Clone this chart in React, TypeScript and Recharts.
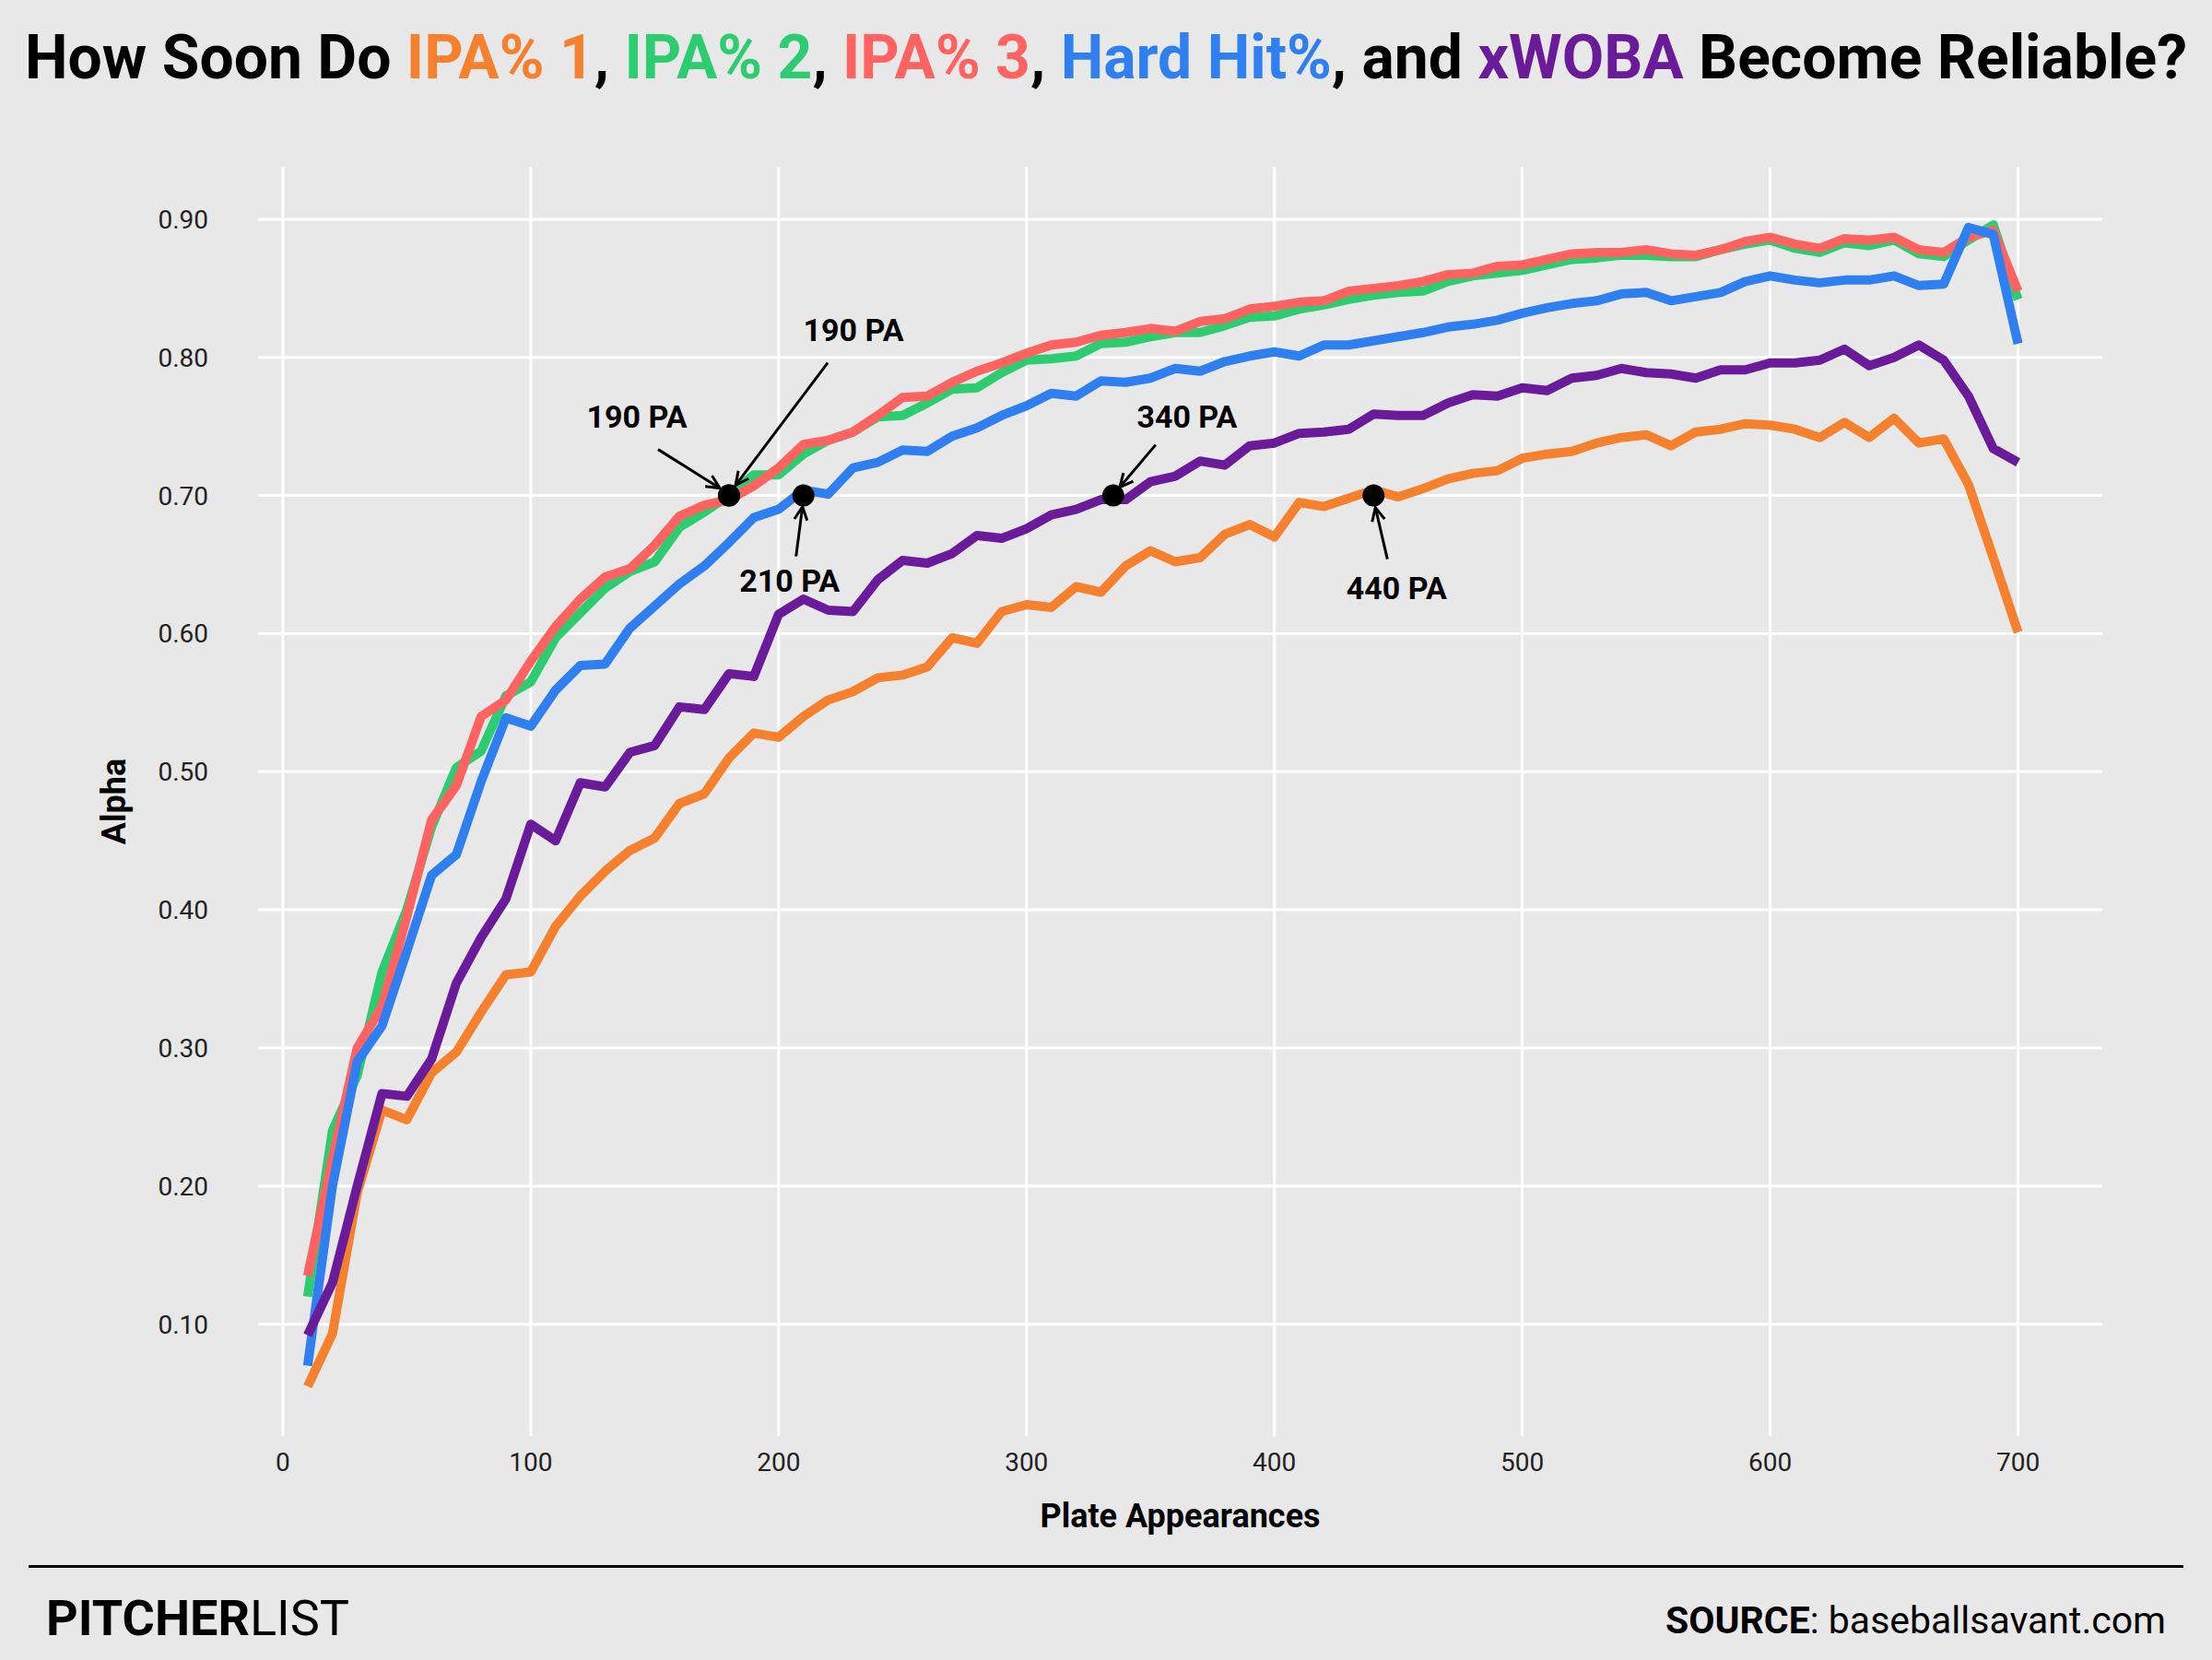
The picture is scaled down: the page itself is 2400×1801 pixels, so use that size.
import React from "react";
import { LineChart, Line, XAxis, YAxis, CartesianGrid, ReferenceDot } from "recharts";

const pa = [10,20,30,40,50,60,70,80,90,100,110,120,130,140,150,160,170,180,190,200,210,220,230,240,250,260,270,280,290,300,310,320,330,340,350,360,370,380,390,400,410,420,430,440,450,460,470,480,490,500,510,520,530,540,550,560,570,580,590,600,610,620,630,640,650,660,670,680,690,700];
const ipa1 = [0.055,0.093,0.195,0.255,0.248,0.282,0.297,0.326,0.353,0.355,0.388,0.41,0.428,0.443,0.452,0.477,0.484,0.51,0.528,0.525,0.54,0.552,0.558,0.568,0.57,0.576,0.597,0.593,0.616,0.621,0.619,0.634,0.63,0.649,0.66,0.652,0.655,0.672,0.679,0.67,0.695,0.692,0.698,0.704,0.699,0.705,0.712,0.716,0.718,0.727,0.73,0.732,0.738,0.742,0.744,0.736,0.746,0.748,0.752,0.751,0.748,0.742,0.753,0.742,0.756,0.738,0.741,0.708,0.655,0.601];
const ipa2 = [0.12,0.24,0.28,0.355,0.4,0.46,0.503,0.515,0.555,0.565,0.597,0.615,0.633,0.645,0.652,0.677,0.688,0.7,0.715,0.715,0.73,0.74,0.746,0.757,0.758,0.767,0.777,0.778,0.789,0.798,0.799,0.801,0.81,0.811,0.815,0.818,0.818,0.823,0.829,0.83,0.835,0.838,0.842,0.845,0.847,0.848,0.855,0.859,0.861,0.863,0.867,0.871,0.872,0.874,0.874,0.873,0.873,0.878,0.882,0.885,0.879,0.876,0.883,0.881,0.885,0.875,0.873,0.885,0.896,0.842];
const ipa3 = [0.135,0.22,0.3,0.33,0.395,0.465,0.49,0.54,0.552,0.58,0.605,0.625,0.641,0.647,0.664,0.685,0.693,0.697,0.707,0.72,0.737,0.74,0.746,0.758,0.771,0.772,0.782,0.79,0.796,0.803,0.809,0.811,0.816,0.818,0.821,0.819,0.826,0.828,0.835,0.837,0.84,0.841,0.848,0.85,0.852,0.855,0.86,0.861,0.866,0.867,0.871,0.875,0.876,0.876,0.878,0.875,0.874,0.878,0.884,0.887,0.882,0.879,0.886,0.885,0.887,0.878,0.876,0.887,0.892,0.848];
const hardHit = [0.07,0.2,0.29,0.316,0.37,0.425,0.44,0.493,0.539,0.533,0.559,0.577,0.578,0.604,0.62,0.636,0.649,0.666,0.684,0.69,0.704,0.701,0.72,0.724,0.733,0.732,0.743,0.749,0.758,0.765,0.774,0.772,0.783,0.782,0.785,0.792,0.79,0.797,0.801,0.804,0.801,0.809,0.809,0.812,0.815,0.818,0.822,0.824,0.827,0.832,0.836,0.839,0.841,0.846,0.847,0.841,0.844,0.847,0.855,0.859,0.856,0.854,0.856,0.856,0.859,0.852,0.853,0.894,0.889,0.81];
const xwoba = [0.092,0.13,0.2,0.267,0.265,0.292,0.347,0.38,0.408,0.462,0.45,0.492,0.489,0.514,0.519,0.547,0.545,0.571,0.569,0.614,0.625,0.617,0.616,0.639,0.653,0.651,0.658,0.671,0.669,0.676,0.686,0.69,0.697,0.697,0.71,0.714,0.725,0.722,0.736,0.738,0.745,0.746,0.748,0.759,0.758,0.758,0.767,0.773,0.772,0.778,0.776,0.785,0.787,0.792,0.789,0.788,0.785,0.791,0.791,0.796,0.796,0.798,0.806,0.794,0.8,0.809,0.798,0.772,0.734,0.724];

const xTicks = [0,100,200,300,400,500,600,700];
const yTicks = [0.1,0.2,0.3,0.4,0.5,0.6,0.7,0.8,0.9];

const dotX = [180, 180, 210, 335, 440];
const dotY = [0.7, 0.7, 0.7, 0.7, 0.7];
const dotLabels = ["190 PA", "190 PA", "210 PA", "340 PA", "440 PA"];
// offsets (px) for label/arrow relative to dot
const annot = [
  { tx: -100, ty: -86, ax: -77, ay: -50, bx: -10, by: -8 },
  { tx: 135, ty: -180, ax: 107, ay: -144, bx: 7, by: -11 },
  { tx: -15, ty: 92, ax: -8, ay: 66, bx: -1, by: 12 },
  { tx: 80, ty: -86, ax: 46, ay: -55, bx: 7, by: -9 },
  { tx: 25, ty: 100, ax: 15, ay: 69, bx: 2, by: 13 },
];

const data = pa.map((p, i) => ({ pa: p, ipa1: ipa1[i], ipa2: ipa2[i], ipa3: ipa3[i], hardHit: hardHit[i], xwoba: xwoba[i] }));

const series = [
  { key: "ipa1", color: "#f5802e" },
  { key: "ipa2", color: "#2ecc71" },
  { key: "ipa3", color: "#ff6361" },
  { key: "hardHit", color: "#2f7ff0" },
  { key: "xwoba", color: "#6a1b9a" },
];

const font = "Roboto, 'Noto Sans', sans-serif";

function Annot(idx: number) {
  return (props: any) => {
    const { cx, cy } = props;
    const a = annot[idx];
    const x1 = cx + a.ax, y1 = cy + a.ay, x2 = cx + a.bx, y2 = cy + a.by;
    const ang = Math.atan2(y2 - y1, x2 - x1);
    const L = 16, w = 0.45;
    const h1x = x2 - L * Math.cos(ang - w), h1y = y2 - L * Math.sin(ang - w);
    const h2x = x2 - L * Math.cos(ang + w), h2y = y2 - L * Math.sin(ang + w);
    return (
      <g>
        <circle cx={cx} cy={cy} r={12} fill="#000" />
        <line x1={x1} y1={y1} x2={x2} y2={y2} stroke="#000" strokeWidth={3} />
        <polyline points={`${h1x},${h1y} ${x2},${y2} ${h2x},${h2y}`} fill="none" stroke="#000" strokeWidth={3} />
        <text x={cx + a.tx} y={cy + a.ty} textAnchor="middle" dominantBaseline="central" fontFamily={font} fontWeight={700} fontSize={34} fill="#000">{dotLabels[idx]}</text>
      </g>
    );
  };
}

export default function App() {
  return (
    <div style={{ position: "absolute", left: 0, top: 0, width: 2400, height: 1801, background: "#e8e8e8", fontFamily: font }}>
      <div style={{ position: "absolute", top: 24, left: 0, width: 2400, textAlign: "center", fontSize: 66, fontWeight: 700, color: "#000", whiteSpace: "nowrap" }}>
        How Soon Do <span style={{ color: "#f5802e" }}>IPA% 1</span>, <span style={{ color: "#2ecc71" }}>IPA% 2</span>, <span style={{ color: "#ff6361" }}>IPA% 3</span>, <span style={{ color: "#2f7ff0" }}>Hard Hit%</span>, and <span style={{ color: "#6a1b9a" }}>xWOBA</span> Become Reliable?
      </div>
      <div style={{ position: "absolute", left: 0, top: 0 }}>
        <LineChart width={2400} height={1801} data={data} margin={{ top: 181, right: 119, left: 0, bottom: 0 }}>
          <CartesianGrid stroke="#ffffff" strokeWidth={3} horizontalValues={yTicks} verticalValues={xTicks} />
          <XAxis dataKey="pa" type="number" domain={[-10, 734]} ticks={xTicks} height={243} axisLine={false} tickLine={false} tickMargin={12}
            tick={{ fontSize: 28, fill: "#222", fontFamily: font }}
            label={{ value: "Plate Appearances", position: "insideTop", dy: 68, style: { fontSize: 36, fontWeight: 700, fill: "#000", fontFamily: font } }} />
          <YAxis type="number" domain={[0.019, 0.938]} ticks={yTicks} width={280} axisLine={false} tickLine={false} tickMargin={48}
            tickFormatter={(v: number) => v.toFixed(2)} tick={{ fontSize: 28, fill: "#222", fontFamily: font }}
            label={{ value: "Alpha", angle: -90, position: "insideLeft", dx: 118, style: { fontSize: 36, fontWeight: 700, fill: "#000", fontFamily: font, textAnchor: "middle" } }} />
          {series.map((s) => (
            <Line key={s.key} dataKey={s.key} stroke={s.color} strokeWidth={10} dot={false} isAnimationActive={false} strokeLinejoin="round" />
          ))}
          {dotX.map((x, i) => (
            <ReferenceDot key={i} x={x} y={dotY[i]} r={12} shape={Annot(i)} />
          ))}
        </LineChart>
      </div>
      <div style={{ position: "absolute", left: 31, top: 1698, width: 2338, height: 3, background: "#000" }} />
      <div style={{ position: "absolute", left: 50, top: 1724, fontSize: 54, color: "#000" }}>
        <span style={{ fontWeight: 700 }}>PITCHER</span><span style={{ fontWeight: 400 }}>LIST</span>
      </div>
      <div style={{ position: "absolute", right: 50, top: 1734, fontSize: 41, color: "#000" }}>
        <span style={{ fontWeight: 700 }}>SOURCE</span>: baseballsavant.com
      </div>
    </div>
  );
}
